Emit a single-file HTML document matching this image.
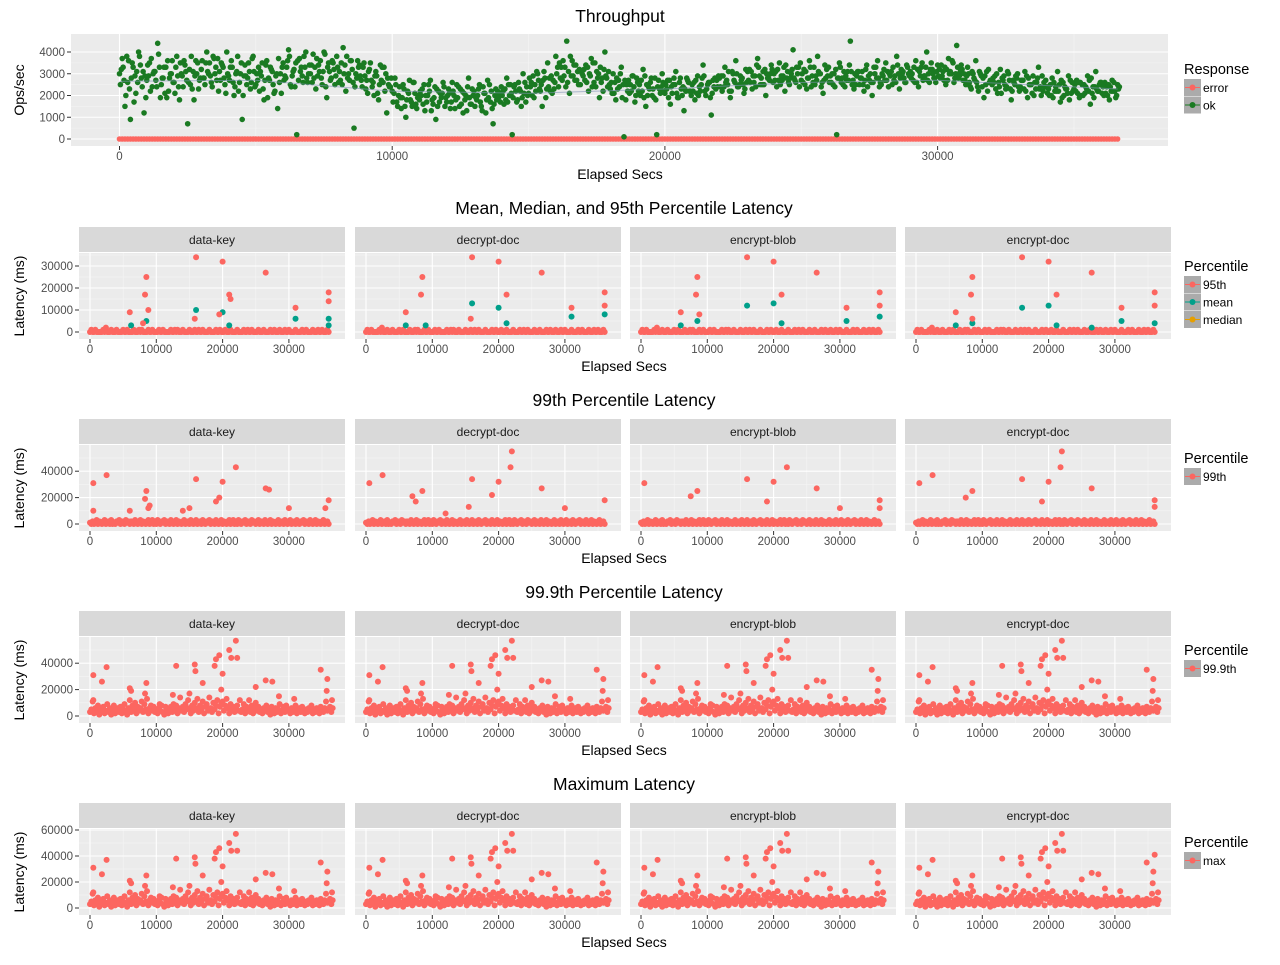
<!DOCTYPE html>
<html><head><meta charset="utf-8"><style>
body{margin:0;background:#fff;font-family:"Liberation Sans",sans-serif;}
svg text{font-family:"Liberation Sans",sans-serif;}
</style></head><body>
<svg id="c" width="1280" height="960" viewBox="0 0 1280 960" xmlns="http://www.w3.org/2000/svg"></svg>
<script>
// ---- data ----
const tpTimes = Array.from({length:367},(_,i)=>i*100); // seconds
const tpOk = [30,37,15,26,9,33,21,40,28,12, 27,35,24,31,44,19,28,33,22,30, 26,38,18,29,34,7,25,31,36,23, 32,28,40,35,24,30,37,27,33,21,
29,36,20,31,26,9,34,28,23,38, 25,33,29,18,36,27,31,22,14,30, 35,28,41,24,32,2,37,29,33,26, 30,39,23,34,28,40,19,31,36,25,
33,27,42,22,30,36,5,28,34,24, 29,21,35,26,31,18,27,33,12,24, 22,28,15,19,25,10,21,17,26,14, 18,23,13,20,27,16,9,22,19,24,
17,21,26,14,19,23,12,20,28,16, 22,18,25,13,21,27,17,7,23,19, 24,16,28,20,2,25,18,22,30,17, 21,26,19,31,23,15,28,35,22,27,
38,24,33,29,45,21,36,27,31,25, 29,34,22,37,26,31,19,28,40,24, 23,30,18,27,33,1,25,21,29,17, 26,20,32,15,24,28,19,2,23,30,
21,27,16,25,31,19,23,13,28,22, 25,18,29,22,34,20,26,11,24,27, 28,22,33,25,19,30,36,24,27,21, 26,32,23,29,37,25,31,20,28,34,
30,24,35,27,22,31,28,41,26,33, 27,32,23,36,29,25,38,30,21,28, 33,26,30,2,35,28,24,31,45,27, 25,31,28,22,34,27,20,30,36,26,
29,35,24,31,27,38,23,30,26,33, 31,27,36,24,33,29,40,26,32,28, 34,28,31,25,37,30,26,43,29,32, 27,33,24,30,36,22,29,19,31,26,
25,29,21,32,27,23,30,18,26,28, 22,27,31,19,25,29,23,33,20,26, 24,20,28,22,31,17,26,23,29,21, 23,27,19,25,21,29,16,24,31,22,
26,20,24,18,27,22,25]; // hundreds of ops/sec
const tpOk2 = [25,33,20,36,28,17,31,38,24,29, 34,22,30,27,39,25,33,19,28,36, 21,29,35,24,31,26,38,18,30,27, 36,25,31,29,38,33,22,35,28,40,
27,33,24,38,30,20,29,35,26,31, 30,22,35,27,19,33,25,29,37,21, 27,33,38,29,24,36,31,26,40,30, 34,28,37,31,25,39,33,27,35,29,
26,35,30,38,27,32,24,36,29,33, 23,31,27,20,29,25,33,22,28,24, 17,25,20,14,23,18,27,15,21,19, 22,16,20,25,13,19,23,17,21,15,
20,14,22,18,24,16,21,13,19,23, 15,20,17,24,12,19,22,16,18,21, 20,23,17,25,19,22,26,15,21,24, 28,20,25,30,22,27,19,24,29,23,
30,35,27,33,26,38,29,34,25,31, 32,26,30,24,35,28,33,22,29,31, 26,21,28,24,19,27,22,25,29,20, 22,27,19,25,23,20,28,24,21,26,
25,19,24,28,21,26,20,23,27,22, 22,27,20,25,29,23,26,21,28,24, 24,29,26,31,22,27,30,25,28,23, 31,26,29,24,33,28,25,30,27,32,
27,32,25,29,34,26,30,28,33,24, 30,25,28,33,26,29,31,24,27,32, 26,30,24,28,33,25,29,27,31,23, 29,25,31,27,24,30,26,33,28,25,
32,27,30,25,29,34,28,31,26,30, 28,33,26,31,35,29,27,32,30,26, 29,34,27,32,30,36,28,33,31,27, 25,30,23,28,26,31,24,29,22,27,
28,23,26,21,29,24,27,22,25,30, 24,27,22,28,25,20,26,23,29,24, 21,25,19,24,22,27,20,23,18,26, 25,21,26,20,24,22,28,19,23,25,
21,26,20,24,22,19,23];
const tpOk3 = [32,27,38,23,35,29,26,34,31,19, 29,37,31,24,33,28,21,36,30,26, 33,24,30,36,27,32,23,29,35,28, 28,35,30,26,37,27,31,34,25,30,
33,26,30,22,35,29,25,31,37,24, 27,31,23,34,28,32,21,30,26,33, 29,36,25,31,35,27,33,38,28,34, 26,33,29,36,31,24,35,28,32,38,
31,25,34,28,36,26,30,33,27,35, 27,32,24,29,21,34,26,30,25,28, 21,17,24,19,15,22,18,26,16,20, 20,25,17,22,18,24,15,21,26,19,
23,17,20,25,15,22,18,24,16,20, 19,23,15,21,18,25,14,20,22,17, 22,18,25,21,24,17,23,19,26,20, 24,29,22,27,25,31,23,28,21,26,
33,28,36,24,31,29,34,27,32,30, 27,33,29,35,24,30,26,32,28,25, 21,26,23,30,25,18,27,22,24,28, 25,22,29,20,26,23,18,27,24,22,
23,27,21,25,19,28,24,22,26,20, 26,21,24,28,22,25,19,27,23,29, 29,24,27,22,31,26,24,29,25,32, 27,31,26,34,29,25,32,28,30,26,
31,27,29,33,28,25,32,27,30,35, 26,31,28,24,33,27,30,26,34,29, 29,25,32,28,26,31,27,34,25,30, 31,28,25,32,29,26,33,28,24,30,
27,31,29,33,26,30,32,28,34,29, 30,26,32,29,27,33,30,35,28,31, 32,29,33,27,31,35,30,28,34,30, 29,26,31,27,24,30,28,25,32,27,
26,30,24,28,25,31,23,27,29,24, 27,23,29,25,21,26,28,24,22,27, 23,20,26,22,25,19,24,21,27,22, 22,26,20,25,23,27,21,24,22,26,
24,21,25,22,26,20,24];
const tpErr = new Array(367).fill(0);
const trendT = [0,5000,10000,15000,20000,25000,30000,36600];
const trendV = [26.5,27,22,21,23,26,27,23];
const tpYTicks = [0,1000,2000,3000,4000];
const xTicks = [0,10000,20000,30000];
const facets = ["data-key","decrypt-doc","encrypt-blob","encrypt-doc"];
const baseTimes = Array.from({length:184},(_,i)=>i*200);
const p95base = "0100100000102000100010000100100001000101000010010000100100000100101000100001000100100100001000010010001000100001000010010010000100010000100100010001001000010000100100001000100100010".split('').map(Number);
const p99base = "1020130210230120301021302103120210320130210230130203102130210320130210230120310230120310213021032013021023013020310213021031201302103201302102301203102301203102130210320130210230120".split('').map(Number);
const p999base = [3,5,11,2,6,4,8,1,5,3, 7,2,4,9,3,6,1,5,8,2, 4,6,3,7,2,5,9,4,1,6, 12,3,8,5,10,2,7,4,6,11, 3,9,5,13,2,6,8,4,7,3,
5,2,6,4,8,3,1,7,5,2, 4,7,3,9,5,8,2,6,14,4, 7,3,9,5,12,6,2,8,4,10, 6,13,3,8,5,11,2,7,9,4, 14,6,3,10,5,8,12,2,7,9,
11,4,8,13,6,2,9,5,7,3, 6,8,4,12,3,5,9,2,7,4, 5,3,8,2,6,10,4,7,3,5, 2,6,4,8,3,5,1,7,4,2, 6,3,5,9,2,4,7,3,8,5,
4,2,6,3,5,8,2,4,6,3, 7,4,2,5,3,6,4,8,2,5, 3,6,4,2,7,5,3,6,11,4, 5,7,3,6];
// outliers [time, thousands ms]
const p95out = [
 [[6000,9],[8300,17],[8500,25],[8000,4],[16000,34],[20000,32],[21000,17],[21200,15],[26500,27],[31000,11],[36000,18],[36000,14],[15800,6],[19500,8],[8800,10]],
 [[6000,9],[8500,25],[8300,17],[16000,34],[20000,32],[21200,17],[26500,27],[31000,11],[36000,18],[36000,12],[15800,6]],
 [[6000,9],[8500,25],[8300,17],[16000,34],[20000,32],[21200,17],[26500,27],[31000,11],[36000,18],[36000,12],[8800,8]],
 [[6000,9],[8500,25],[8300,17],[16000,34],[20000,32],[21200,17],[26500,27],[31000,11],[36000,18],[36000,12],[8500,6]]];
const meanOut = [
 [[16000,10],[20000,9],[21000,3],[31000,6],[36000,6],[8500,5],[6200,3],[36000,3]],
 [[16000,13],[20000,11],[31000,7],[36000,8],[6000,3],[9000,3],[21200,4]],
 [[16000,12],[20000,13],[31000,5],[36000,7],[8500,5],[6000,3],[21200,4]],
 [[16000,11],[20000,12],[31000,5],[36000,4],[8500,4],[6000,3],[21200,3],[26500,2]]];
const p99out = [
 [[500,31],[2500,37],[16000,34],[22000,43],[20000,32],[8500,25],[8300,19],[26500,27],[27000,26],[36000,18],[19500,20],[19000,17],[6000,10],[14000,10],[15000,12],[30000,12],[35500,12],[500,10],[8800,12],[9000,14]],
 [[500,31],[2500,37],[16000,34],[22000,55],[21800,43],[20000,32],[8500,25],[7000,21],[7500,17],[26500,27],[36000,18],[19000,22],[15500,13],[30000,12],[12000,8]],
 [[500,31],[16000,34],[22000,43],[20000,32],[8500,25],[7500,21],[26500,27],[36000,18],[19000,17],[36000,12],[30000,12]],
 [[500,31],[2500,37],[16000,34],[22000,55],[21800,43],[20000,32],[8500,25],[7500,20],[26500,27],[36000,18],[36000,13],[19000,17]]];
const p999out = [[500,31],[1800,26],[2500,37],[6000,21],[6200,19],[8500,25],[8300,17],[13000,38],[15800,39],[15900,34],[17000,25],[18800,38],[19000,43],[19500,46],[19800,20],[20000,32],[21000,50],[21300,44],[22000,57],[22200,44],[25000,22],[26500,27],[27500,26],[28500,15],[34800,35],[35800,28],[35700,19],[15000,17],[12500,16],[30800,13],[36500,12],[500,12],[10500,9],[24000,12]];
const maxExtra = [[],[],[],[[36000,41]]];

// ---- drawing ----
const svg=document.getElementById('c');const NS='http://www.w3.org/2000/svg';
function el(tag,attrs,parent){const e=document.createElementNS(NS,tag);for(const k in attrs)e.setAttribute(k,attrs[k]);(parent||svg).appendChild(e);return e;}
function txt(s,x,y,size,anchor,fill,parent){const t=el('text',{x:x,y:y,'font-size':size,'text-anchor':anchor||'middle',fill:fill||'#000'},parent);t.textContent=s;return t;}
const RED='#FC6660',GREEN='#1a7a22',TEAL='#00A08A',ORANGE='#E69F00';

function legend(x,y,title,items,name){
 const g=el('g',{});
 txt(title,x,y+5,14.5,'start','#000',g);
 items.forEach((it,i)=>{const ky=y+10+i*17.5;
  el('rect',{x:x,y:ky,width:17,height:17,fill:'#ababab'},g);
  el('line',{x1:x+1,x2:x+16,y1:ky+8.5,y2:ky+8.5,stroke:it[1],'stroke-width':1},g);
  el('circle',{cx:x+8.5,cy:ky+8.5,r:3,fill:it[1]},g);
  const lt=txt(it[0],x+19,ky+13,12,'start','#000',g);});
}

// Throughput
(function(){
 const L=71,R=1168,T=34,B=146;
 const xs=t=>119.5+t*0.02727, ys=v=>139-v*0.02175;
 const g=el('g',{});
 
 el('rect',{x:L,y:T,width:R-L,height:B-T,fill:'#EBEBEB'},g);
 [500,1500,2500,3500].forEach(v=>el('line',{x1:L,x2:R,y1:ys(v),y2:ys(v),stroke:'#f5f5f5','stroke-width':0.6},g));
 [-5000,5000,15000,25000,35000].forEach(v=>{const x=xs(v);if(x>L)el('line',{x1:x,x2:x,y1:T,y2:B,stroke:'#f5f5f5','stroke-width':0.6},g);});
 tpYTicks.forEach(v=>{el('line',{x1:L,x2:R,y1:ys(v),y2:ys(v),stroke:'#fff','stroke-width':1.1},g);el('line',{x1:67,x2:71,y1:ys(v),y2:ys(v),stroke:'#333'},g);txt(String(v),65,ys(v)+4,11.5,'end','#4d4d4d',g);});
 xTicks.forEach(v=>{el('line',{x1:xs(v),x2:xs(v),y1:T,y2:B,stroke:'#fff','stroke-width':1.1},g);el('line',{x1:xs(v),x2:xs(v),y1:B,y2:B+4,stroke:'#333'},g);txt(String(v),xs(v),B+14,11.5,'middle','#4d4d4d',g);});
 tpTimes.forEach((t,i)=>{const c=el('circle',{cx:xs(t),cy:ys(tpErr[i]),r:2.8,fill:RED},g);});
 [[tpOk,0],[tpOk2,33],[tpOk3,66]].forEach(([arr,off])=>{
  arr.forEach((v,i)=>{const c=el('circle',{cx:xs(tpTimes[i]+off),cy:ys(v*100),r:2.8,fill:GREEN},g);});
 });
 const pl=el('polyline',{points:trendT.map((t,i)=>xs(t)+','+ys(trendV[i]*100)).join(' '),fill:'none',stroke:'#7f93b5','stroke-width':1,opacity:0.6},g);
 
 const tt=txt('Throughput',620,22,17.5,'middle','#000');
 const yl=txt('Ops/sec',0,0,14,'middle','#000');yl.setAttribute('transform','translate(24,90) rotate(-90)');
 const xl=txt('Elapsed Secs',620,179,14,'middle','#000');
 legend(1184,69,'Response',[['error',RED],['ok',GREEN]],'response-legend');
})();

const rows=[
 {title:'Mean, Median, and 95th Percentile Latency',scale:2.2,ticks:[0,10000,20000,30000],base:p95base,out:p95out,extra:meanOut,extraColor:TEAL,leg:[['95th',RED],['mean',TEAL],['median',ORANGE]]},
 {title:'99th Percentile Latency',scale:1.32,ticks:[0,20000,40000],base:p99base,out:p99out,leg:[['99th',RED]]},
 {title:'99.9th Percentile Latency',scale:1.32,ticks:[0,20000,40000],base:p999base,out:[p999out,p999out,p999out,p999out],leg:[['99.9th',RED]]},
 {title:'Maximum Latency',scale:1.3,ticks:[0,20000,40000,60000],base:p999base,out:[p999out,p999out,p999out,p999out],extra:maxExtra,extraColor:RED,leg:[['max',RED]]}];
const facetL=[79,355,630,905];
rows.forEach((row,r)=>{
 const st=227+192*r, T=st+26, B=st+112, y0=st+105;
 const ys=v=>y0-v*row.scale/1000;
 const g=el('g',{});
 const tt=txt(row.title,624,st-13,17.5,'middle','#000',g);
 facets.forEach((f,fi)=>{
  const L=facetL[fi],R=L+266, xs=t=>L+11+t*0.00663;
  const fg=el('g',{},g);
  el('rect',{x:L,y:st,width:266,height:25,fill:'#D9D9D9'},fg);
  txt(f,L+133,st+17,12,'middle','#1a1a1a',fg);
  el('rect',{x:L,y:T,width:266,height:B-T,fill:'#EBEBEB'},fg);
  const step=row.ticks[1]-row.ticks[0];
  for(let v=step/2;ys(v)>T;v+=step)el('line',{x1:L,x2:R,y1:ys(v),y2:ys(v),stroke:'#f5f5f5','stroke-width':0.6},fg);
  [5000,15000,25000,35000].forEach(v=>el('line',{x1:xs(v),x2:xs(v),y1:T,y2:B,stroke:'#f5f5f5','stroke-width':0.6},fg));
  row.ticks.forEach(v=>{el('line',{x1:L,x2:R,y1:ys(v),y2:ys(v),stroke:'#fff','stroke-width':1.1},fg);
   if(fi===0){el('line',{x1:L-4,x2:L,y1:ys(v),y2:ys(v),stroke:'#333'},fg);txt(String(v),L-6,ys(v)+4,11.5,'end','#4d4d4d',fg);}});
  xTicks.forEach(v=>{el('line',{x1:xs(v),x2:xs(v),y1:T,y2:B,stroke:'#fff','stroke-width':1.1},fg);el('line',{x1:xs(v),x2:xs(v),y1:B,y2:B+4,stroke:'#333'},fg);txt(String(v),xs(v),B+14,11.5,'middle','#4d4d4d',fg);});
  baseTimes.forEach((t,i)=>{const v=row.base[i];if(v===undefined||isNaN(v))return;const c=el('circle',{cx:xs(t),cy:ys(v*1000),r:3,fill:RED},fg);});
  if(row.extra&&row.extraColor===TEAL)row.extra[fi].forEach(p=>{const c=el('circle',{cx:xs(p[0]),cy:ys(p[1]*1000),r:3,fill:TEAL},fg);});
  row.out[fi].forEach(p=>{const c=el('circle',{cx:xs(p[0]),cy:ys(p[1]*1000),r:3,fill:RED},fg);});
  if(row.extra&&row.extraColor===RED)row.extra[fi].forEach(p=>{const c=el('circle',{cx:xs(p[0]),cy:ys(p[1]*1000),r:3,fill:RED},fg);});
 });
 const yl=txt('Latency (ms)',0,0,14,'middle','#000',g);yl.setAttribute('transform','translate(24,'+((T+B)/2)+') rotate(-90)');
 const xl=txt('Elapsed Secs',624,st+144,14,'middle','#000',g);
 legend(1184,st+39,'Percentile',row.leg,'percentile-legend');
});
</script>
</body></html>
